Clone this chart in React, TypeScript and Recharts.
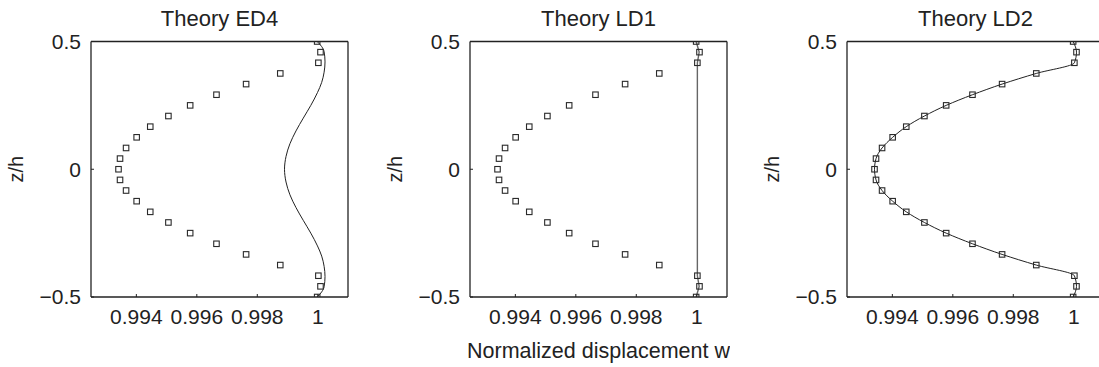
import React from "react";
import { ComposedChart, Line, Scatter, XAxis, YAxis } from "recharts";

// reference solution (squares), same in all three panels
const zLevels = [
  0.5, 0.4583, 0.4167, 0.375, 0.3333, 0.2917, 0.25, 0.2083, 0.1667, 0.125, 0.0833, 0.0417, 0,
  -0.0417, -0.0833, -0.125, -0.1667, -0.2083, -0.25, -0.2917, -0.3333, -0.375, -0.4167, -0.4583, -0.5,
];
const refW = [
  0.99998, 1.00009, 1.00002, 0.99876, 0.99763, 0.99665, 0.99578, 0.99506, 0.99446, 0.99401, 0.99366, 0.99346, 0.99341,
  0.99346, 0.99366, 0.99401, 0.99446, 0.99506, 0.99578, 0.99665, 0.99763, 0.99876, 1.00002, 1.00009, 0.99998,
];

// theory ED4 curve
const ed4Z = [0.5, 0.48, 0.46, 0.42, 0.38, 0.34, 0.3, 0.25, 0.2, 0.15, 0.1, 0.05, 0, -0.05, -0.1, -0.15, -0.2, -0.25, -0.3, -0.34, -0.38, -0.42, -0.46, -0.48, -0.5];
const ed4W = [
  0.99998, 1.00013, 1.00021, 1.00024, 1.00021, 1.00013, 0.99999, 0.99977, 0.99952, 0.99928, 0.99908, 0.99895, 0.9989,
  0.99895, 0.99908, 0.99928, 0.99952, 0.99977, 0.99999, 1.00013, 1.00021, 1.00024, 1.00021, 1.00013, 0.99998,
];

// theory LD1 line
const ld1Z = [0.5, 0.4583, 0.4167, -0.4167, -0.4583, -0.5];
const ld1W = [0.99998, 1.00008, 1.00002, 1.00002, 1.00008, 0.99998];

// theory LD2 line
const ld2W = [
  0.99998, 1.00009, 1.00002, 0.99876, 0.99763, 0.99665, 0.99578, 0.99506, 0.99446, 0.99401, 0.99366, 0.99346, 0.99341,
  0.99346, 0.99366, 0.99401, 0.99446, 0.99506, 0.99578, 0.99665, 0.99763, 0.99876, 1.00002, 1.00009, 0.99998,
];

const xTicks = [0.994, 0.996, 0.998, 1];
const zTicks = [-0.5, 0, 0.5];
const xDomain = [0.9925, 1.001];
const zDomain = [-0.5, 0.5];

const FONT = "'Liberation Sans', Arial, sans-serif";
const INK = "#222";

const toPoints = (zs: number[], ws: number[]) => zs.map((z, i) => ({ z, w: ws[i] }));

const refPoints = toPoints(zLevels, refW);

const panels = [
  { title: "Theory ED4", left: -0.3, line: toPoints(ed4Z, ed4W), curve: "monotone" as const, stroke: "#222", width: 1 },
  { title: "Theory LD1", left: 379, line: toPoints(ld1Z, ld1W), curve: "linear" as const, stroke: "#666", width: 1.4 },
  { title: "Theory LD2", left: 756.3, line: toPoints(zLevels, ld2W), curve: "monotone" as const, stroke: "#222", width: 1 },
];

function SquareDot(props: any) {
  const { cx, cy } = props;
  if (cx == null || cy == null) return null;
  return <rect x={cx - 2.75} y={cy - 2.75} width={5.5} height={5.5} fill="none" stroke="#2a2a2a" strokeWidth={1.1} />;
}

function XTick({ x, y, payload }: any) {
  return (
    <text x={x} y={y} dy="0.71em" textAnchor="middle" fontSize={21} fill={INK} fontFamily={FONT}>
      {String(payload.value)}
    </text>
  );
}

function ZTick({ x, y, payload }: any) {
  const v = payload.value as number;
  return (
    <text x={x} y={y} dy="0.355em" textAnchor="end" fontSize={21} fill={INK} fontFamily={FONT}>
      {v < 0 ? `\u2212${Math.abs(v)}` : String(v)}
    </text>
  );
}

function renderZLabel(props: any) {
  const { viewBox } = props;
  const x = 23;
  const y = viewBox.y + viewBox.height / 2;
  return (
    <text x={x} y={y} transform={`rotate(-90 ${x} ${y})`} textAnchor="middle" fontSize={20} fill={INK} fontFamily={FONT}>
      z/h
    </text>
  );
}

function Panel({ p, showXLabel }: { p: (typeof panels)[number]; showXLabel: boolean }) {
  const axisLine = { stroke: INK, strokeWidth: 1.3 };
  const tickLine = { stroke: INK, strokeWidth: 1 };
  return (
    <div style={{ position: "absolute", left: p.left, top: 0 }}>
      <ComposedChart width={351} height={367} layout="vertical" margin={{ top: 40.5, right: 2, bottom: 30, left: 0 }}>
        <XAxis
          dataKey="w"
          type="number"
          domain={xDomain}
          allowDataOverflow
          ticks={xTicks}
          interval={0}
          height={40}
          tick={<XTick />}
          tickSize={-3}
          tickMargin={15}
          axisLine={axisLine}
          tickLine={tickLine}
          label={
            showXLabel
              ? { value: "Normalized displacement w", position: "bottom", offset: 6, fontSize: 21.5, fill: INK, fontFamily: FONT }
              : undefined
          }
        />
        <XAxis
          xAxisId="top"
          orientation="top"
          type="number"
          domain={xDomain}
          allowDataOverflow
          ticks={xTicks}
          interval={0}
          height={1}
          tick={false}
          tickSize={-3}
          axisLine={axisLine}
          tickLine={tickLine}
          label={{ value: p.title, position: "top", offset: 15, fontSize: 22, fill: INK, fontFamily: FONT }}
        />
        <YAxis
          dataKey="z"
          type="number"
          reversed
          domain={zDomain}
          allowDataOverflow
          ticks={zTicks}
          interval={0}
          width={91}
          tick={<ZTick />}
          tickSize={-3}
          tickMargin={13}
          axisLine={axisLine}
          tickLine={tickLine}
          label={{ content: renderZLabel }}
        />
        <YAxis
          yAxisId="right"
          orientation="right"
          type="number"
          reversed
          domain={zDomain}
          allowDataOverflow
          ticks={zTicks}
          interval={0}
          width={1}
          tick={false}
          tickSize={-3}
          axisLine={axisLine}
          tickLine={tickLine}
        />
        <Line
          data={p.line}
          dataKey="w"
          type={p.curve}
          stroke={p.stroke}
          strokeWidth={p.width}
          dot={false}
          activeDot={false}
          isAnimationActive={false}
        />
        <Scatter data={refPoints} dataKey="w" shape={<SquareDot />} isAnimationActive={false} />
      </ComposedChart>
    </div>
  );
}

export default function App() {
  return (
    <div
      style={{
        position: "absolute",
        left: 0,
        top: 0,
        width: 1099,
        height: 367,
        overflow: "hidden",
        background: "#fff",
        fontFamily: FONT,
      }}
    >
      {panels.map((p, i) => (
        <Panel key={p.title} p={p} showXLabel={i === 1} />
      ))}
    </div>
  );
}
